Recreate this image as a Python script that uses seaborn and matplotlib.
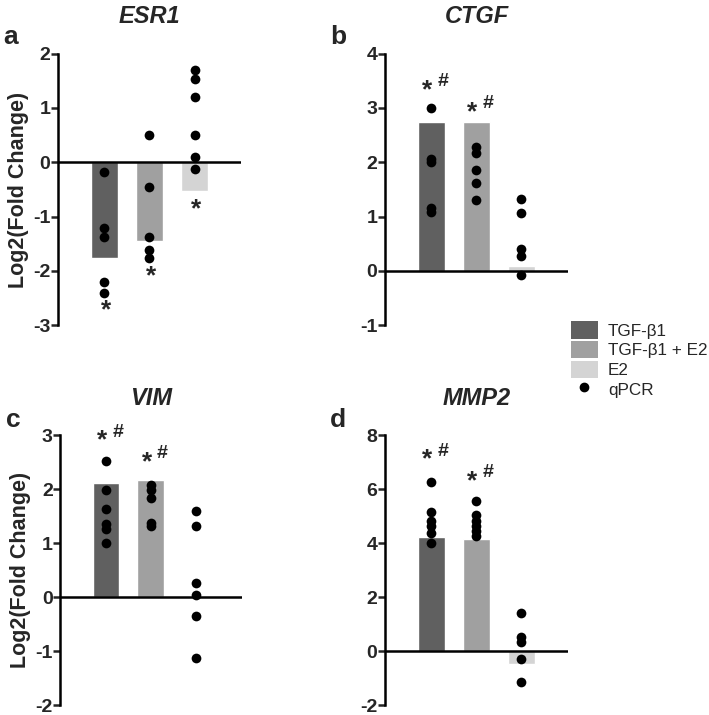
import numpy as np
import pandas as pd
import matplotlib
matplotlib.use("Agg")
import matplotlib.pyplot as plt
import seaborn as sns
from matplotlib.patches import Patch
from matplotlib.lines import Line2D

# values
genes = ["ESR1", "CTGF", "VIM", "MMP2"]
panel_letters = ["a", "b", "c", "d"]
groups = ["TGF-β1", "TGF-β1 + E2", "E2"]
bar_colors = ["#606060", "#a0a0a0", "#d4d4d4"]

esr1_bars = [-1.77, -1.44, -0.53]
ctgf_bars = [2.75, 2.75, 0.10]
vim_bars = [2.12, 2.17, -0.02]
mmp2_bars = [4.23, 4.17, -0.48]

esr1_dots = [[-0.17, -1.20, -1.38, -2.20, -2.40],
             [0.50, -0.46, -1.38, -1.62, -1.76],
             [1.69, 1.54, 1.21, 0.50, 0.09, -0.12]]
ctgf_dots = [[3.00, 2.07, 2.01, 1.15, 1.08],
             [2.29, 2.18, 1.86, 1.62, 1.30],
             [1.32, 1.07, 0.41, 0.27, -0.08]]
vim_dots = [[2.52, 1.99, 1.63, 1.35, 1.27, 1.00],
            [2.07, 1.98, 1.84, 1.37, 1.32],
            [1.60, 1.32, 0.26, 0.04, -0.34, -1.13]]
mmp2_dots = [[6.27, 5.15, 4.82, 4.64, 4.39, 4.02],
             [5.56, 5.03, 4.82, 4.64, 4.45, 4.27],
             [1.42, 0.53, 0.34, -0.29, -1.13]]

# significance marks: label and y value per group ("" = none)
esr1_sig = ["*", "*", "*"]
esr1_sig_y = [-2.72, -2.10, -0.86]
ctgf_sig = ["*#", "*#", ""]
ctgf_sig_y = [3.38, 2.98, 0]
vim_sig = ["*#", "*#", ""]
vim_sig_y = [2.95, 2.55, 0]
mmp2_sig = ["*#", "*#", ""]
mmp2_sig_y = [7.2, 6.4, 0]

ylims = [(-3, 2), (-1, 4), (-2, 3), (-2, 8)]
yticks = [[-3, -2, -1, 0, 1, 2], [-1, 0, 1, 2, 3, 4],
          [-2, -1, 0, 1, 2, 3], [-2, 0, 2, 4, 6, 8]]

bars_all = [esr1_bars, ctgf_bars, vim_bars, mmp2_bars]
dots_all = [esr1_dots, ctgf_dots, vim_dots, mmp2_dots]
sig_all = [esr1_sig, ctgf_sig, vim_sig, mmp2_sig]
sig_y_all = [esr1_sig_y, ctgf_sig_y, vim_sig_y, mmp2_sig_y]

sns.set_style("white")
plt.rcParams["font.family"] = ["Liberation Sans", "DejaVu Sans"]

fig = plt.figure(figsize=(7.09, 7.15), dpi=100)
positions = [[0.082, 0.545, 0.258, 0.380],
             [0.543, 0.545, 0.258, 0.380],
             [0.085, 0.0135, 0.256, 0.378],
             [0.543, 0.0135, 0.258, 0.378]]

for i, gene in enumerate(genes):
    ax = fig.add_axes(positions[i])
    bar_df = pd.DataFrame({"group": groups, "value": bars_all[i]})
    dot_df = pd.DataFrame({
        "group": [g for g, d in zip(groups, dots_all[i]) for _ in d],
        "value": [v for d in dots_all[i] for v in d],
    })
    sns.barplot(data=bar_df, x="group", y="value", hue="group", order=groups,
                palette=bar_colors, errorbar=None, width=0.6, legend=False, ax=ax)
    sns.stripplot(data=dot_df, x="group", y="value", order=groups, color="black",
                  jitter=False, size=7, ax=ax, zorder=4)
    ax.axhline(0, color="black", lw=1.8, zorder=3)
    ax.set_xlim(-1.02, 3.03)
    ax.set_ylim(*ylims[i])
    ax.set_yticks(yticks[i])
    ax.set_yticklabels([str(t) for t in yticks[i]], fontsize=14, fontweight="bold")
    ax.set_xticks([])
    ax.set_xlabel("")
    for s in ["top", "right", "bottom"]:
        ax.spines[s].set_visible(False)
    ax.spines["left"].set_linewidth(1.8)
    ax.spines["left"].set_color("black")
    ax.tick_params(axis="y", direction="out", length=5, width=1.8, pad=0.5, left=True)
    if i in (0, 2):
        ax.set_ylabel("Log2(Fold Change)", fontsize=15.5, fontweight="bold", labelpad=3)
    else:
        ax.set_ylabel("")
    ax.set_title(gene, fontsize=17, fontweight="bold", style="italic", pad=22)
    ax.text(-0.30, 1.018 if i < 2 else 1.01, panel_letters[i], transform=ax.transAxes,
            fontsize=19, fontweight="bold", ha="left", va="bottom")

    for j, (lab, yv) in enumerate(zip(sig_all[i], sig_y_all[i])):
        if lab == "*":
            ax.annotate("*", (j, yv), xytext=(1, 0), textcoords="offset points",
                        ha="center", va="center", fontsize=19, fontweight="bold")
        elif lab == "*#":
            ax.annotate("*", (j, yv), xytext=(-3, -2), textcoords="offset points",
                        ha="center", va="center", fontsize=19, fontweight="bold")
            ax.annotate("#", (j, yv), xytext=(8.5, 4), textcoords="offset points",
                        ha="center", va="center", fontsize=14, fontweight="bold")

handles = [Patch(facecolor=c, edgecolor="none") for c in bar_colors]
handles.append(Line2D([], [], marker="o", color="black", linestyle="none", markersize=6))
fig.legend(handles, groups + ["qPCR"], loc="upper left", bbox_to_anchor=(0.783, 0.572),
           frameon=False, fontsize=12.3, handlelength=1.6, handleheight=1.2,
           labelspacing=0.12, handletextpad=0.6)

fig.savefig("out.png", dpi=100)
